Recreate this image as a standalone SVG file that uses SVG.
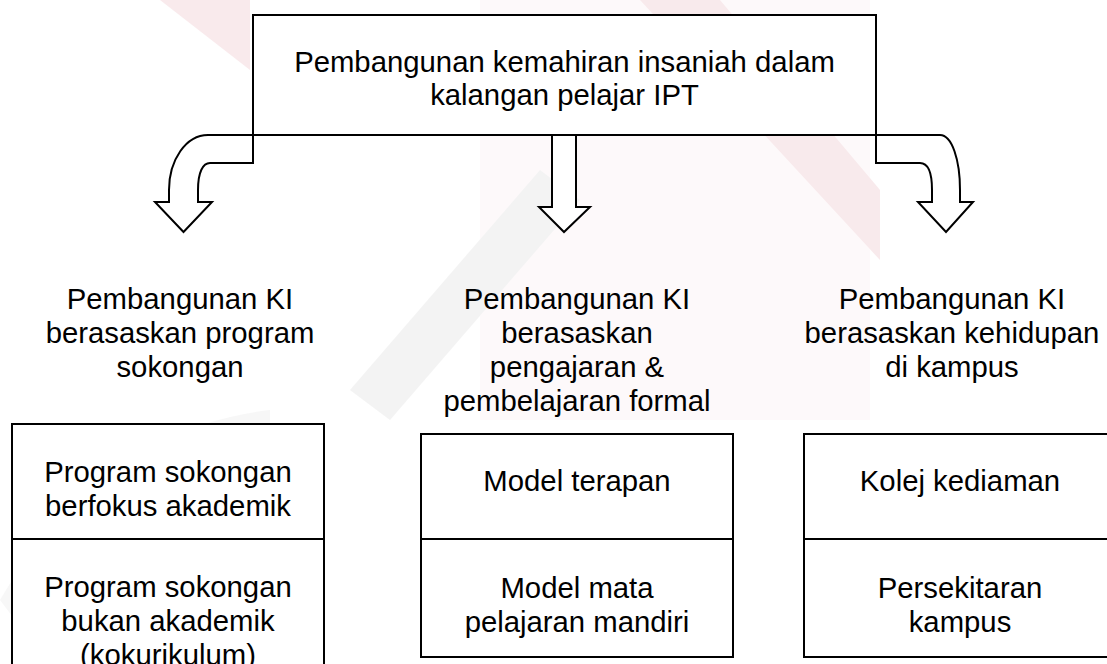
<svg xmlns="http://www.w3.org/2000/svg" width="1107" height="664" viewBox="0 0 1107 664">
<style>
.t{font-family:"Liberation Sans",Arial,sans-serif;font-size:29.3px;fill:#000;text-anchor:middle}
.b{fill:#fff;stroke:#000;stroke-width:2}
.l{fill:none;stroke:#000;stroke-width:2}
.a{fill:#fff;stroke:#000;stroke-width:2;stroke-linejoin:miter}
</style>
<rect x="0" y="0" width="1107" height="664" fill="#fff"/>
<g id="watermark" opacity="0.5">
<path d="M480,0 L870,0 L870,420 L480,420 Z" fill="#fbeff1" opacity="0.6"/>
<path d="M640,0 L720,0 L880,190 L880,260 Z" fill="#f3d6da"/>
<path d="M160,0 L250,0 L250,70 Z" fill="#f3d6da"/>
<path d="M540,170 L580,200 L390,420 L350,390 Z" fill="#e9e9e9"/>
<path d="M0,600 Q100,430 270,410 L270,440 Q120,460 30,640 Z" fill="#f0f0f0"/>
</g>
<g id="connectors">
<path class="a" d="M253,135 L208,135 C186,135 169,160 169,190 L169,202 L155,202 L183.5,232 L212,202 L198,202 L198,190 C198,172 203,163 210,163 L253,163 Z"/>
<path class="a" d="M552,135 L552,207 L539,207 L564,232 L590,207 L576,207 L576,135 Z"/>
<path class="a" d="M876,135 L940,135 C952,135 960,160 960,190 L960,202 L973,202 L946,232 L918,202 L932,202 L932,190 C932,172 928,163 920,163 L876,163 Z"/>
</g>
<g id="root">
<rect class="b" x="253" y="15" width="623" height="120"/>
<text class="t" x="564.5" y="72">Pembangunan kemahiran insaniah dalam</text>
<text class="t" x="564.5" y="105">kalangan pelajar IPT</text>
</g>
<g id="label-program">
<text class="t" x="180" y="309">Pembangunan KI</text>
<text class="t" x="180" y="343">berasaskan program</text>
<text class="t" x="180" y="377">sokongan</text>
</g>
<g id="label-pengajaran">
<text class="t" x="577" y="309">Pembangunan KI</text>
<text class="t" x="577" y="343">berasaskan</text>
<text class="t" x="577" y="377">pengajaran &amp;</text>
<text class="t" x="577" y="411">pembelajaran formal</text>
</g>
<g id="label-kehidupan">
<text class="t" x="952" y="309">Pembangunan KI</text>
<text class="t" x="952" y="343">berasaskan kehidupan</text>
<text class="t" x="952" y="377">di kampus</text>
</g>
<g id="box-program">
<rect class="b" x="12" y="424" width="312" height="260"/>
<line class="l" x1="12" y1="539" x2="324" y2="539"/>
<text class="t" x="168" y="482">Program sokongan</text>
<text class="t" x="168" y="516">berfokus akademik</text>
<text class="t" x="168" y="597">Program sokongan</text>
<text class="t" x="168" y="631">bukan akademik</text>
<text class="t" x="168" y="665">(kokurikulum)</text>
</g>
<g id="box-pengajaran">
<rect class="b" x="421" y="434" width="312" height="223"/>
<line class="l" x1="421" y1="539" x2="733" y2="539"/>
<text class="t" x="577" y="491">Model terapan</text>
<text class="t" x="577" y="598">Model mata</text>
<text class="t" x="577" y="632">pelajaran mandiri</text>
</g>
<g id="box-kehidupan">
<rect class="b" x="804" y="434" width="312" height="223"/>
<line class="l" x1="804" y1="539" x2="1116" y2="539"/>
<text class="t" x="960" y="491">Kolej kediaman</text>
<text class="t" x="960" y="598">Persekitaran</text>
<text class="t" x="960" y="632">kampus</text>
</g>
</svg>
